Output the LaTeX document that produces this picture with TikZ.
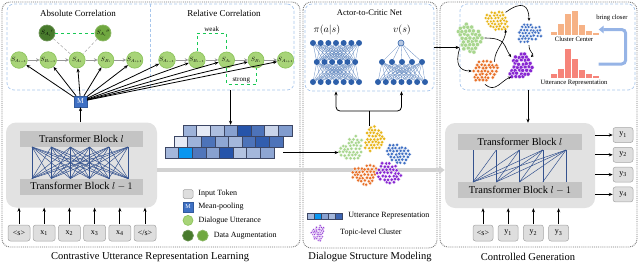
\documentclass[tikz,border=0pt]{standalone}
\usepackage{fontspec}
\setmainfont{Liberation Serif}
\usetikzlibrary{arrows.meta,positioning}
\definecolor{panelgray}{RGB}{120,120,120}
\definecolor{dashblue}{RGB}{168,198,236}
\definecolor{uttgreen}{RGB}{168,212,120}
\definecolor{uttedge}{RGB}{140,196,92}
\definecolor{augdark}{RGB}{72,122,44}
\definecolor{augmid}{RGB}{112,168,64}
\definecolor{linkgreen}{RGB}{24,200,84}
\definecolor{arrgray}{RGB}{150,150,150}
\definecolor{tfgray}{RGB}{226,226,226}
\definecolor{bargray}{RGB}{196,196,196}
\definecolor{tokgray}{RGB}{222,222,222}
\definecolor{tokedge}{RGB}{165,165,165}
\definecolor{poolblue}{RGB}{62,112,196}
\definecolor{netblue}{RGB}{46,96,170}
\definecolor{linkblue}{RGB}{52,82,142}
\definecolor{repblue}{RGB}{38,84,170}
\definecolor{repcyan}{RGB}{10,150,240}
\definecolor{repedge}{RGB}{60,70,100}
\definecolor{widegray}{RGB}{210,210,210}
\definecolor{clgreen}{RGB}{168,214,142}
\definecolor{clyellow}{RGB}{232,180,22}
\definecolor{clblue}{RGB}{64,112,196}
\definecolor{clorange}{RGB}{232,112,40}
\definecolor{clpurple}{RGB}{136,38,210}
\definecolor{historange}{RGB}{246,178,134}
\definecolor{histred}{RGB}{246,132,122}
\definecolor{closeblue}{RGB}{150,180,230}

\newcommand{\ulab}[1]{\scalebox{0.62}{$#1$}}
\newcommand{\dotcluster}[5]{%
  \node[circle, inner sep=0pt, minimum size={#5*24pt}] (#1) at (#2,#3) {};
  \pgfmathsetmacro{\cph}{360*rnd}
  \pgfmathsetmacro{\cps}{360*rnd}
  \begin{scope}[shift={(#2,#3)}, scale=#5]
    \foreach \a in {-5,...,5}
      \foreach \b in {-5,...,5} {
        \pgfmathsetmacro{\dx}{3.3*(\a+0.5*\b)}
        \pgfmathsetmacro{\dy}{2.86*\b+0.001}
        \pgfmathsetmacro{\dd}{veclen(\dx,\dy)}
        \pgfmathsetmacro{\cth}{atan2(\dy,\dx)}
        \pgfmathsetmacro{\rr}{10.6*(1+0.13*sin(2*\cth+\cph)+0.09*cos(3*\cth+\cps))}
        \ifdim\dd pt<\rr pt
          \fill[#4, draw=white, line width=0.25pt] ({\dx+0.6*rand},{\dy+0.6*rand}) circle (1.75);
        \fi
      }
  \end{scope}}

\begin{document}
\begin{tikzpicture}[x=1pt, y=-1pt,
  panel/.style={draw=panelgray, densely dotted, line width=0.9pt, rounded corners=8pt},
  dbox/.style={draw=dashblue, dash pattern=on 3pt off 2pt, line width=0.7pt, rounded corners=7pt, inner sep=0pt},
  paneltitle/.style={font=\fontsize{9}{10}\selectfont},
  captext/.style={font=\fontsize{10.5}{12}\selectfont},
  legtext/.style={font=\fontsize{8}{9}\selectfont, inner sep=1pt},
  smalltext/.style={font=\fontsize{6.6}{7.5}\selectfont, inner sep=1pt},
  tagtext/.style={font=\fontsize{7}{8}\selectfont, inner sep=1pt},
  utt/.style={circle, fill=uttgreen, draw=uttedge, line width=0.7pt, minimum size=16pt, inner sep=0pt},
  augA/.style={utt, fill=augdark, draw=augdark!80!white},
  augB/.style={utt, fill=augmid, draw=augmid!80!white},
  poolbox/.style={fill=poolblue, draw=poolblue!80!black, line width=0.3pt, minimum width=13pt, minimum height=11pt, inner sep=0pt, text=white, font=\fontsize{7.5}{8}\selectfont},
  tfbox/.style={fill=tfgray, rounded corners=10pt, inner sep=0pt},
  tfbar/.style={fill=bargray, minimum height=16pt, minimum width=123pt, inner sep=0pt, font=\fontsize{10.4}{12}\selectfont},
  tokbox/.style={fill=tokgray, draw=tokedge, line width=0.5pt, rounded corners=2.5pt, minimum width=22pt, minimum height=16pt, inner sep=0pt, font=\fontsize{8}{9}\selectfont},
  repcell/.style={draw=repedge, line width=0.4pt, minimum width=13.6pt, minimum height=11pt, inner sep=0pt},
  neu/.style={circle, fill=netblue, minimum size=6pt, inner sep=0pt},
  nlink/.style={draw=netblue!75, line width=0.3pt},
  tlink/.style={draw=linkblue, line width=0.5pt},
  marr/.style={-{Stealth[length=4pt, width=3.2pt]}, line width=0.8pt},
  garr/.style={-{Stealth[length=3.5pt, width=3.5pt]}, draw=arrgray, line width=0.9pt},
  carr/.style={-{Stealth[length=3pt, width=2.8pt]}, line width=0.6pt},
  gdash/.style={draw=linkgreen, dashed, line width=0.7pt},
  graydash/.style={draw=arrgray, densely dashed, line width=0.4pt},
  bigarr/.style={-{Triangle[length=6pt, width=8pt]}, draw=widegray, line width=4pt},
  closer/.style={-{Triangle[length=5pt, width=7.5pt]}, draw=closeblue, line width=3pt, rounded corners=4pt},
  histbox/.style={inner sep=0pt, minimum width=49pt}
]
\pgfmathsetseed{7}
\useasboundingbox (0,0) rectangle (640,266);

\draw[panel] (2,2) rectangle (300,247);
\draw[panel] (303,2) rectangle (437,248);
\draw[panel] (440,2) rectangle (637,247);

% contrastive utterance representation learning
\node[dbox, minimum width=287pt, minimum height=86pt] (corr) at (150.5,47) {};
\draw[dbox] (corr.north) -- (corr.south);
\node[paneltitle] at (78,13) {Absolute Correlation};
\node[paneltitle] at (224,13) {Relative Correlation};

\node[utt] (ab1) at (19,60) {\ulab{S_{A_{i-1}}}};
\node[utt, right=12pt of ab1] (ab2) {\ulab{S_{B_{i-1}}}};
\node[utt, right=12pt of ab2] (ab3) {\ulab{S_{A_i}}};
\node[utt, right=12pt of ab3] (ab4) {\ulab{S_{B_i}}};
\node[utt, right=12pt of ab4] (ab5) {\ulab{S_{A_{i+1}}}};
\node[augA] (aug1) at (47,33) {\ulab{{S_{A_i}}'}};
\node[augB] (aug2) at (103,33) {\ulab{{S_{A_i}}''}};

\node[utt] (re1) at (167,60) {\ulab{S_{A_{i-1}}}};
\node[utt, right=12.7pt of re1] (re2) {\ulab{S_{B_{i-1}}}};
\node[utt, right=12.7pt of re2] (re3) {\ulab{S_{A_i}}};
\node[utt, right=12.7pt of re3] (re4) {\ulab{S_{B_i}}};
\node[utt, right=12.7pt of re4] (re5) {\ulab{S_{A_{i+1}}}};

\foreach \i [count=\j from 2] in {1,...,4} {
  \draw[garr] (ab\i) -- (ab\j);
  \draw[garr] (re\i) -- (re\j);
}
\draw[gdash] (aug1) -- (aug2);
\draw[graydash] (aug1) -- (ab3);
\draw[graydash] (aug2) -- (ab3);
\draw[gdash] (re2.north) -- ++(0,-18) -| node[tagtext, above, pos=0.25] {weak} (re3.north);
\draw[gdash] (re3.south) -- ++(0,16) -| node[tagtext, above, pos=0.25] {strong} (re4.south);

\node[poolbox] (mp) at (80.5,101.5) {M};
\foreach \n in {ab1,ab2,ab3,ab4,ab5,re1,re2,re3,re4,re5}
  \draw[marr] (mp) -- (\n);

\node[tfbox, minimum width=151pt, minimum height=85pt] (tf1) at (81.5,165) {};
\node[tfbar] (tb1u) at (81.5,139) {Transformer Block $l$};
\node[tfbar] (tb1d) at (81.5,186.5) {Transformer Block $l-1$};
\foreach \i in {0,...,5} {
  \coordinate (tu\i) at ({32+19.2*\i},147);
  \coordinate (td\i) at ({32+19.2*\i},178.5);
}
\foreach \i in {0,...,5}
  \foreach \j in {0,...,5}
    \draw[tlink] (tu\i) -- (td\j);
\draw[marr] (tf1.north -| mp) -- (mp);

\node[tokbox] (tk1) at (19,233) {\textless s\textgreater};
\node[tokbox, right=2.7pt of tk1] (tk2) {x\textsubscript{1}};
\node[tokbox, right=2.7pt of tk2] (tk3) {x\textsubscript{2}};
\node[tokbox, right=2.7pt of tk3] (tk4) {x\textsubscript{3}};
\node[tokbox, right=2.7pt of tk4] (tk5) {x\textsubscript{4}};
\node[tokbox, right=2.7pt of tk5] (tk6) {\textless/s\textgreater};
\foreach \i in {1,...,6}
  \draw[marr] ([yshift=1pt]tk\i.north) -- (tk\i.north |- tf1.south);

\foreach \c [count=\i] in {repblue!45, repblue!12, repblue!38, repblue!55, repblue!100, repblue!82, repblue!25, repblue!58}
  \node[repcell, fill=\c] (ra\i) at ({189.8+13.6*(\i-1)},130.5) {};
\foreach \c [count=\i] in {repblue!12, repblue!45, repblue!82, repblue!52, repblue!42, repblue!82, repblue!95, repblue!82}
  \node[repcell, fill=\c] (rb\i) at ({180.8+13.6*(\i-1)},141.5) {};
\foreach \c [count=\i] in {repblue!42, repcyan, repblue!80, repblue!55, repblue!100, repblue!35, repblue!42, repblue!52}
  \node[repcell, fill=\c] (rc\i) at ({171.8+13.6*(\i-1)},152.5) {};
\draw[marr] (ra4.north |- corr.south) -- (ra4.north);

\node[tokbox, minimum width=10pt, minimum height=9pt, rounded corners=1.5pt] (lgtok) at (188,194) {};
\node[poolbox, minimum width=10pt, minimum height=10pt, font=\fontsize{6}{6}\selectfont, below=3pt of lgtok] (lgpool) {M};
\node[utt, minimum size=10pt, below=3pt of lgpool] (lgutt) {};
\node[augA, minimum size=11pt, below=4pt of lgutt] (lgaug1) {};
\node[augB, minimum size=11pt, right=3pt of lgaug1] (lgaug2) {};
\node[legtext, right=4pt of lgtok] {Input Token};
\node[legtext, right=4pt of lgpool] {Mean-pooling};
\node[legtext, right=4pt of lgutt] {Dialogue Utterance};
\node[legtext, right=4pt of lgaug2] {Data Augmentation};

% controlled generation
\node[dbox, minimum width=175pt, minimum height=86pt] (genbox) at (547.5,47) {};
\node[tfbox, minimum width=150pt, minimum height=85pt] (tf3) at (520,165.5) {};
\node[tfbar, minimum width=124pt] (tb3u) at (520,142) {Transformer Block $l$};
\node[tfbar, minimum width=124pt] (tb3d) at (520,190) {Transformer Block $l-1$};
\foreach \i in {0,...,4} {
  \coordinate (gu\i) at ({473+23.25*\i},150);
  \coordinate (gd\i) at ({473+23.25*\i},182);
}
\foreach \i in {0,...,4}
  \foreach \j in {\i,...,4}
    \draw[tlink] (gd\i) -- (gu\j);

\node[tokbox, minimum width=20pt] (gk1) at (483,233) {\textless s\textgreater};
\node[tokbox, minimum width=20pt, right=4.7pt of gk1] (gk2) {y\textsubscript{1}};
\node[tokbox, minimum width=20pt, right=4.7pt of gk2] (gk3) {y\textsubscript{2}};
\node[tokbox, minimum width=20pt, right=4.7pt of gk3] (gk4) {y\textsubscript{3}};
\foreach \i in {1,...,4}
  \draw[marr] ([yshift=1pt]gk\i.north) -- (gk\i.north |- tf3.south);

\node[tokbox, minimum width=20pt, minimum height=15pt] (out1) at (623,135) {y\textsubscript{1}};
\node[tokbox, minimum width=20pt, minimum height=15pt, below=4.3pt of out1] (out2) {y\textsubscript{2}};
\node[tokbox, minimum width=20pt, minimum height=15pt, below=4.3pt of out2] (out3) {y\textsubscript{3}};
\node[tokbox, minimum width=20pt, minimum height=15pt, below=4.3pt of out3] (out4) {y\textsubscript{4}};
\foreach \k in {1,...,4}
  \draw[marr] (tf3.east |- out\k) -- (out\k);

\coordinate (gdown) at ([xshift=8pt]tf3.north);
\draw[marr] (gdown |- genbox.south) -- (gdown);

\dotcluster{cg3}{470}{38}{clgreen}{1.2}
\dotcluster{cy3}{497}{21}{clyellow}{1.0}
\dotcluster{cb3}{529}{33}{clblue}{1.0}
\dotcluster{co3}{485}{71}{clorange}{1.1}
\dotcluster{cp3}{521}{67}{clpurple}{1.15}
\draw[carr] (cg3.south west) .. controls +(-5,16) and +(-12,0) .. (co3.west);
\draw[carr] (cg3.east) .. controls +(22,0) and +(-8,-12) .. (cp3.north west);
\draw[carr] (cy3.north east) .. controls +(16,-12) and +(0,-16) .. (cb3.north);
\draw[carr] (co3.north east) .. controls +(0,-12) and +(0,12) .. (cy3.south east);
\draw[carr] (co3.south) .. controls +(10,9) and +(-10,4) .. (cp3.south west);
\draw[carr] (cb3.south) .. controls +(0,8) and +(4,-4) .. (cp3.north east);

\node[histbox, minimum height=25pt] (chist) at (574,22.5) {};
\foreach \h [count=\i] in {4,12,22,25,11,5,3}
  \fill[historange, draw=white, line width=0.4pt] ({550+7*(\i-1)},35) rectangle ++(7,-\h);
\node[smalltext, below=1pt of chist] {Cluster Center};
\node[histbox, minimum height=28pt] (uhist) at (574,64) {};
\foreach \h [count=\i] in {5,10,30,20,9,5,3}
  \fill[histred, draw=white, line width=0.4pt] ({550+7*(\i-1)},78) rectangle ++(7,-\h);
\node[smalltext, below=1pt of uhist] {Utterance Representation};
\node[smalltext] (bclab) at (612,18) {bring closer};
\draw[closer] (uhist.east) -- ++(27,0) |- ([yshift=-7pt]chist.east);

% dialogue structure modeling
\draw[bigarr] (tf1.east |- 0,170) -- (tf3.west |- 0,170);

\node[dbox, minimum width=129pt, minimum height=87pt] (acbox) at (369.5,47.5) {};
\node[paneltitle, font=\fontsize{8.5}{10}\selectfont] at (369.5,13) {Actor-to-Critic Net};
\node[font=\fontsize{10}{11}\selectfont] at (327,30) {$\pi(a|s)$};
\node[font=\fontsize{10}{11}\selectfont] at (402,30) {$v(s)$};

\foreach \i in {1,...,7} {
  \node[neu] (actT\i) at ({313+7.67*(\i-1)},43) {};
  \node[neu] (actB\i) at ({313+7.67*(\i-1)},82) {};
  \node[neu] (criB\i) at ({378+7.83*(\i-1)},82) {};
}
\foreach \i in {1,...,6}
  \node[neu] (actM\i) at ({316.8+7.67*(\i-1)},62) {};
\foreach \i in {1,...,5}
  \node[neu] (criM\i) at ({382+10*(\i-1)},62) {};
\node[neu, fill=netblue!35, draw=netblue, line width=0.6pt] (criT) at (401,43) {};
\foreach \i in {1,...,7}
  \foreach \j in {1,...,6} {
    \draw[nlink] (actT\i) -- (actM\j);
    \draw[nlink] (actB\i) -- (actM\j);
  }
\foreach \j in {1,...,5} {
  \draw[nlink] (criT) -- (criM\j);
  \foreach \i in {1,...,7}
    \draw[nlink] (criB\i) -- (criM\j);
}
\draw[marr] (acbox.east) -- (genbox.west |- acbox.east);

\dotcluster{cg2}{352}{149}{clgreen}{1.1}
\dotcluster{cy2}{374}{139}{clyellow}{1.05}
\dotcluster{cb2}{399}{154}{clblue}{1.05}
\dotcluster{co2}{365}{175}{clorange}{1.05}
\dotcluster{cp2}{388}{173}{clpurple}{1.1}
\draw[marr] (rb8.east |- rc8) -- (cg2.west |- rc8);

\coordinate (split) at (369,111);
\draw[line width=0.8pt] (split |- cy2.north) -- (split);
\draw[marr, rounded corners=4pt] (split) -| (actB4 |- acbox.south);
\draw[marr, rounded corners=4pt] (split) -| (criB4 |- acbox.south);

\foreach \c [count=\i] in {repblue!42, repcyan, repblue!55, repblue!42, repblue!90}
  \node[repcell, fill=\c, minimum width=7pt, minimum height=6pt] (lgr\i) at ({310.5+7*(\i-1)},216) {};
\node[legtext, right=5pt of lgr5] {Utterance Representation};
\dotcluster{lgcl}{318}{233}{clpurple}{0.65}
\node[legtext, right=21pt of lgcl.center] {Topic-level Cluster};

\node[captext] at (150,257) {Contrastive Utterance Representation Learning};
\node[captext] at (370,257) {Dialogue Structure Modeling};
\node[captext] at (528,257) {Controlled Generation};
\end{tikzpicture}
\end{document}
